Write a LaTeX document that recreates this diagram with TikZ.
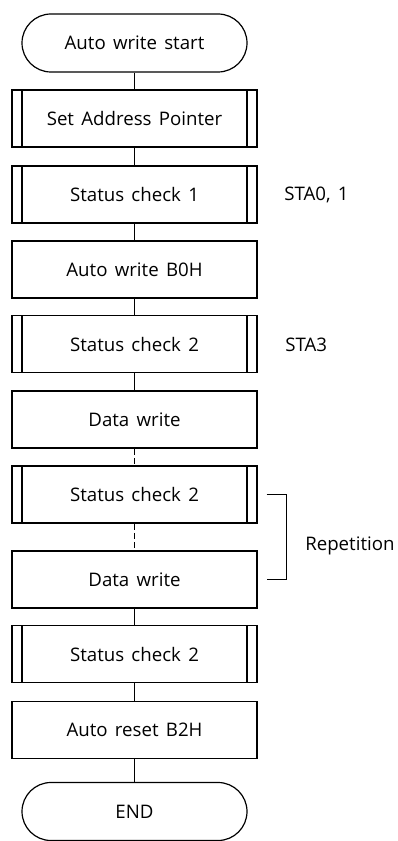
\documentclass[tikz,border=0pt]{standalone}
\usepackage{fontspec}
\setmainfont[WordSpace={1.5,1,1}]{Open Sans}
\usetikzlibrary{calc}
\tikzset{
	flowbox/.style={draw, line width=0.9pt, rectangle, minimum width=183.75pt, minimum height=42.75pt, inner sep=0pt, font=\fontsize{14}{16}\selectfont},
	subbox/.style={flowbox, path picture={
		\draw[line width=0.9pt] ([xshift=7.5pt]path picture bounding box.north west) -- ([xshift=7.5pt]path picture bounding box.south west);
		\draw[line width=0.9pt] ([xshift=-7.5pt]path picture bounding box.north east) -- ([xshift=-7.5pt]path picture bounding box.south east);}},
	termbox/.style={draw, line width=0.9pt, rounded corners=21.75pt, minimum width=168.75pt, minimum height=43.5pt, inner sep=0pt, font=\fontsize{14}{16}\selectfont},
	sidetext/.style={anchor=west, inner sep=0pt, font=\fontsize{14}{16}\selectfont},
	flowline/.style={line width=0.9pt},
	repline/.style={line width=0.9pt, dash pattern=on 4.5pt off 2.5pt},
}

\begin{document}
\begin{tikzpicture}[x=0.75pt, y=-0.75pt]
			%%%%% START %%%%%
			
			\useasboundingbox (0,0) rectangle (398,841);
			
			\node[termbox] (start) at (134.5, 43) {Auto write start};
			\node[subbox] (setptr) at (134.5, 118.5) {Set Address Pointer};
			\node[subbox] (chkone) at (134.5, 194.5) {Status check 1};
			\node[flowbox] (autowr) at (134.5, 269.5) {Auto write B0H};
			\node[subbox] (chktwoA) at (134.5, 344) {Status check 2};
			\node[flowbox] (datawrA) at (134.5, 419.5) {Data write};
			\node[subbox] (chktwoB) at (134.5, 494.5) {Status check 2};
			\node[flowbox] (datawrB) at (134.5, 579.5) {Data write};
			\node[subbox] (chktwoC) at (134.5, 654) {Status check 2};
			\node[flowbox] (autorst) at (134.5, 730) {Auto reset B2H};
			\node[termbox] (finish) at (134.5, 811.5) {END};
			
			\node[sidetext] (staA) at (284, 195) {STA0, 1};
			\node[sidetext] (staB) at (285, 345) {STA3};
			\node[sidetext] (reptext) at (305, 546) {Repetition};
			
			\draw[flowline] (start) -- (setptr);
			\draw[flowline] (setptr) -- (chkone);
			\draw[flowline] (chkone) -- (autowr);
			\draw[flowline] (autowr) -- (chktwoA);
			\draw[flowline] (chktwoA) -- (datawrA);
			\draw[repline] (datawrA) -- (chktwoB);
			\draw[repline] (chktwoB) -- (datawrB);
			\draw[flowline] (datawrB) -- (chktwoC);
			\draw[flowline] (chktwoC) -- (autorst);
			\draw[flowline] (autorst) -- (finish);
			
			\coordinate (brtop) at ($(chktwoB.east)+(9,0)$);
			\coordinate (brbot) at ($(datawrB.east)+(9,0)$);
			\draw[flowline] (brtop) -- ++(20,0) |- (brbot);
			
			%%%%% END %%%%%
		\end{tikzpicture}
\end{document}
